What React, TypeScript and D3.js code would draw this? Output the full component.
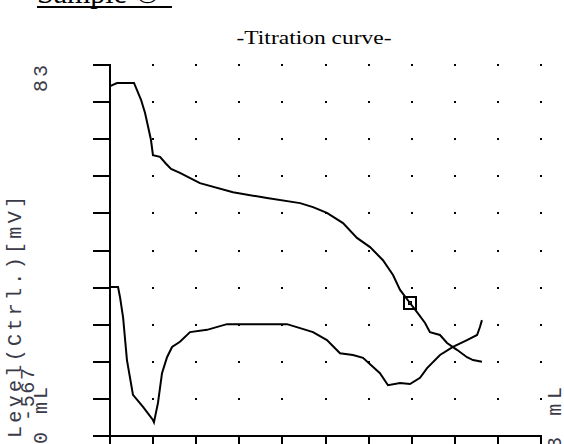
import * as d3 from 'd3'

// titration data (mL, mV)
const upperMl = [0, 0.049, 0.167, 0.188, 0.216, 0.244, 0.264, 0.285, 0.299, 0.348, 0.39, 0.425, 0.487, 0.626, 0.856, 1.093, 1.323, 1.413, 1.51, 1.622, 1.719, 1.81, 1.9, 1.97, 2.019, 2.088, 2.137, 2.193, 2.227, 2.297, 2.346, 2.415, 2.485, 2.527, 2.589]
const upperMv = [46, 51.5, 51.5, 39, 22, -1, -24, -48, -75, -78, -90, -99, -106, -124, -140, -150, -159, -166, -176, -194, -220, -236, -259, -285, -311, -334, -350, -369, -385, -390, -404, -416, -429, -434, -437]

const lowerMl = [0, 0.056, 0.07, 0.091, 0.118, 0.16, 0.23, 0.299, 0.306, 0.334, 0.362, 0.397, 0.432, 0.487, 0.557, 0.675, 0.814, 1.232, 1.323, 1.413, 1.51, 1.601, 1.691, 1.761, 1.879, 1.935, 2.019, 2.088, 2.158, 2.207, 2.297, 2.387, 2.485, 2.555, 2.575, 2.589]
const lowerMv = [-306, -306, -324, -359, -434, -495, -516, -539, -543, -509, -457, -429, -411, -402, -385, -381, -371, -371, -378, -385, -399, -422, -425, -430, -457, -478, -474, -476, -465, -448, -425, -411, -399, -390, -376, -364]

// end point marker
const markerMl = [2.088]
const markerMv = [-334]

const xTicks = [0, 0.3, 0.6, 0.9, 1.2, 1.5, 1.8, 2.1, 2.4, 2.7, 3]
const yTicks = [83, 18, -47, -112, -177, -242, -307, -372, -437, -502, -567]

const mono = '"Liberation Mono", "DejaVu Sans Mono", monospace'
const serif = '"Liberation Serif", "DejaVu Serif", serif'
const labelColor = '#3a3a48'

export default function App() {
    const width = 564
    const height = 444

    const x = d3.scaleLinear().domain([0, 3]).range([110, 541])
    const y = d3.scaleLinear().domain([-567, 83]).range([436, 65])

    const line = d3.line<number>()
        .x(d => x(d))
        .curve(d3.curveLinear)

    const upperPath = line.y((_, i) => y(upperMv[i]))(upperMl) ?? ''
    const lowerPath = line.y((_, i) => y(lowerMv[i]))(lowerMl) ?? ''

    const dots: [number, number][] = []
    xTicks.slice(1).forEach(t => yTicks.slice(0, -1).forEach(v => dots.push([x(t), y(v)])))

    const rot = (px: number, py: number) => `translate(${px},${py}) rotate(-90)`

    return (
        <svg width={width} height={height} style={{ position: 'absolute', left: 0, top: 0, background: '#fff' }}>
            {/* header */}
            <text x={37} y={3} fontFamily={serif} fontSize={30} fill="#000">Sample ①</text>
            <line x1={37} x2={172} y1={7} y2={7} stroke="#000" strokeWidth={2} />
            <text x={314} y={44} textAnchor="middle" fontFamily={serif} fontSize={19} fill="#000" textLength={155} lengthAdjust="spacingAndGlyphs">-Titration curve-</text>

            {/* grid dots */}
            <g fill="#000">
                {dots.map(([dx, dy], i) => (
                    <rect key={i} x={Math.round(dx) - 1} y={Math.round(dy) - 1} width={2} height={2} />
                ))}
            </g>

            {/* axes */}
            <g stroke="#000" strokeWidth={2} shapeRendering="crispEdges">
                <line x1={110} x2={110} y1={y(83) - 1} y2={height} />
                <line x1={110} x2={x(3) + 1} y1={436} y2={436} />
                {yTicks.map(t => (
                    <line key={'y' + t} x1={93} x2={110} y1={Math.round(y(t))} y2={Math.round(y(t))} />
                ))}
                {xTicks.map(t => (
                    <line key={'x' + t} x1={Math.round(x(t))} x2={Math.round(x(t))} y1={436} y2={height} />
                ))}
            </g>

            {/* curves */}
            <g fill="none" stroke="#000" strokeWidth={2} strokeLinejoin="miter">
                <path d={upperPath} />
                <path d={lowerPath} />
            </g>

            {/* marker */}
            {markerMl.map((m, i) => (
                <g key={i} fill="none" stroke="#000" shapeRendering="crispEdges">
                    <rect x={Math.round(x(m)) - 6} y={Math.round(y(markerMv[i])) - 6} width={12} height={12} strokeWidth={2} />
                    <rect x={Math.round(x(m)) - 2} y={Math.round(y(markerMv[i])) - 2} width={3} height={3} strokeWidth={1} />
                </g>
            ))}

            {/* axis labels */}
            <g fontFamily={mono} fontSize={20} fill={labelColor}>
                <text transform={rot(21, 438)} textLength={242} lengthAdjust="spacing">Level(Ctrl.)[mV]</text>
                <text transform={rot(34, 421)} textLength={53} lengthAdjust="spacing">-567</text>
                <text transform={rot(47, 444)} textLength={57} lengthAdjust="spacing">0 mL</text>
                <text transform={rot(47, 92)} textLength={27} lengthAdjust="spacing">83</text>
                <text transform={rot(561, 449)} textLength={62} lengthAdjust="spacing">3 mL</text>
            </g>
        </svg>
    )
}
